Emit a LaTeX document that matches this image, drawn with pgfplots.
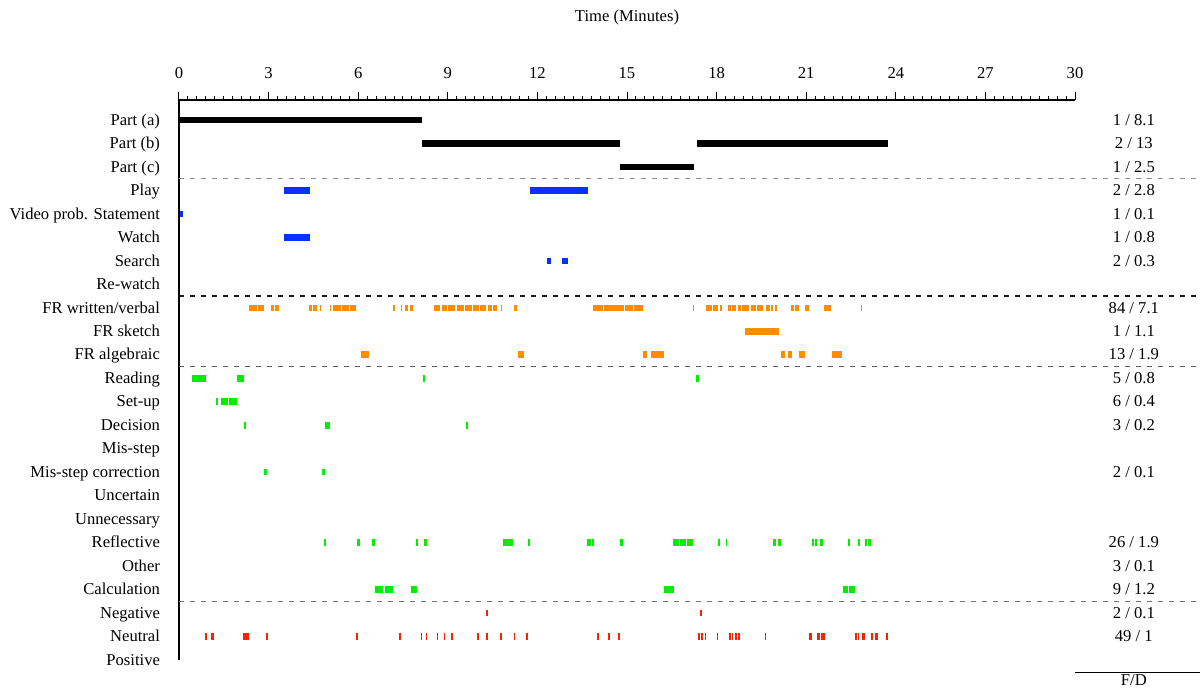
\documentclass[border=0pt]{standalone}
\usepackage{fontspec}
\setmainfont{Liberation Serif}
\usepackage{pgfplots}
\pgfplotsset{compat=1.18}
\usepackage{pgfplotstable}
\definecolor{cblue}{RGB}{0,51,255}
\definecolor{corange}{RGB}{255,140,0}
\definecolor{cgreen}{RGB}{0,238,0}
\definecolor{cred}{RGB}{255,32,0}
\newcommand{\fs}{\fontsize{8.3pt}{10pt}\selectfont}

\pgfplotstableread{
r s e
1 0 8.13
2 8.15 14.78
2 17.33 23.75
3 14.78 17.25
}\tblack
\pgfplotstableread{
r s e
4 3.53 4.40
4 11.75 13.70
5 0.03 0.15
6 3.53 4.40
7 12.31 12.44
7 12.82 13.01
}\tblue
\pgfplotstableread{
r s e
9 2.34 2.62
9 2.66 2.84
9 3.08 3.18
9 3.22 3.35
9 4.35 4.45
9 4.50 4.61
9 4.72 4.77
9 5.04 5.09
9 5.15 5.42
9 5.45 5.68
9 5.72 5.91
9 7.18 7.22
9 7.42 7.47
9 7.58 7.67
9 7.72 7.82
9 8.55 8.75
9 8.80 8.98
9 9.02 9.25
9 9.30 9.55
9 9.58 9.80
9 9.85 10.05
9 10.08 10.27
9 10.36 10.48
9 10.52 10.66
9 10.78 10.82
9 11.23 11.31
9 13.87 14.20
9 14.24 14.55
9 14.58 14.90
9 14.94 15.20
9 15.24 15.54
9 17.20 17.24
9 17.64 17.85
9 17.88 18.06
9 18.12 18.17
9 18.37 18.48
9 18.53 18.66
9 18.70 18.82
9 18.86 19.10
9 19.14 19.32
9 19.36 19.56
9 19.65 19.80
9 19.83 19.90
9 19.96 20.03
9 20.48 20.58
9 20.64 20.76
9 20.97 21.08
9 21.60 21.82
9 22.84 22.88
10 18.96 20.10
11 6.08 6.36
11 11.34 11.56
11 15.54 15.68
11 15.81 16.25
11 20.15 20.28
11 20.38 20.51
11 20.77 20.97
11 21.85 22.21
}\torange
\pgfplotstableread{
r s e
12 0.42 0.92
12 1.94 2.18
12 8.16 8.24
12 17.32 17.41
13 1.24 1.29
13 1.41 1.64
13 1.68 1.94
14 2.19 2.24
14 4.90 5.07
14 9.60 9.66
16 2.86 2.93
16 4.80 4.88
19 4.86 4.93
19 5.97 6.06
19 6.46 6.56
19 7.93 7.99
19 8.20 8.30
19 10.85 11.18
19 11.68 11.75
19 13.67 13.78
19 13.82 13.89
19 14.76 14.87
19 16.55 16.75
19 16.78 16.98
19 17.01 17.22
19 18.06 18.11
19 18.30 18.36
19 19.90 19.98
19 20.07 20.15
19 21.18 21.26
19 21.29 21.35
19 21.46 21.55
19 22.41 22.46
19 22.74 22.80
19 22.97 23.05
19 23.08 23.16
21 6.56 6.82
21 6.91 7.18
21 7.78 7.96
21 16.24 16.57
21 22.22 22.40
21 22.43 22.63
}\tgreen
\pgfplotstableread{
r s e
22 10.28 10.35
22 17.44 17.51
23 0.88 0.93
23 1.07 1.16
23 2.15 2.24
23 2.26 2.35
23 2.91 2.97
23 5.92 5.98
23 7.38 7.44
23 8.09 8.15
23 8.26 8.31
23 8.63 8.68
23 8.86 8.91
23 9.11 9.17
23 9.98 10.04
23 10.27 10.35
23 10.76 10.81
23 11.20 11.25
23 11.61 11.67
23 14.00 14.05
23 14.38 14.43
23 14.70 14.77
23 17.39 17.45
23 17.49 17.55
23 17.60 17.66
23 18.00 18.05
23 18.42 18.48
23 18.51 18.56
23 18.62 18.68
23 18.71 18.77
23 19.61 19.67
23 21.08 21.20
23 21.37 21.45
23 21.48 21.55
23 21.57 21.63
23 22.64 22.70
23 22.72 22.78
23 22.88 22.96
23 23.18 23.24
23 23.32 23.39
23 23.68 23.74
}\tred
\pgfplotstablecreatecol[expr={\thisrow{e}-\thisrow{s}}]{u}\tblack
\pgfplotstablecreatecol[expr={\thisrow{e}-\thisrow{s}}]{u}\tblue
\pgfplotstablecreatecol[expr={\thisrow{e}-\thisrow{s}}]{u}\torange
\pgfplotstablecreatecol[expr={\thisrow{e}-\thisrow{s}}]{u}\tgreen
\pgfplotstablecreatecol[expr={\thisrow{e}-\thisrow{s}}]{u}\tred

\pgfplotsset{seg/.style={line width=3.3pt, quiver={u=\thisrow{u}, v=0}}}

\begin{document}
\begin{tikzpicture}
\useasboundingbox (-89.5pt,-15pt) rectangle (511pt,330pt);
\begin{axis}[
  at={(0,0)}, anchor=south west,
  width=448pt, height=280pt, scale only axis,
  xmin=0, xmax=30, ymin=0.148, ymax=24,
  y dir=reverse,
  axis x line*=top, axis y line*=left,
  clip=false,
  xtick={0,3,...,30}, minor x tick num=9,
  tick align=outside,
  major tick length=4pt, minor tick length=2pt,
  xticklabel style={yshift=3pt},
  ytick={1,...,24},
  yticklabels={{Part (a)},{Part (b)},{Part (c)},{Play},{Video prob. Statement},{Watch},{Search},{Re-watch},{FR written/verbal},{FR sketch},{FR algebraic},{Reading},{Set-up},{Decision},{Mis-step},{Mis-step correction},{Uncertain},{Unnecessary},{Reflective},{Other},{Calculation},{Negative},{Neutral},{Positive}},
  yticklabel style={anchor=base east, xshift=-2pt, yshift=-2.6pt},
  ytick style={draw=none},
  tick label style={font=\fs},
  /pgf/number format/assume math mode=true,
  axis line style={line width=0.6pt},
  every tick/.style={black, line width=0.5pt},
]
\draw[dash pattern=on 2.5pt off 3pt, line width=0.8pt, black!45] (axis cs:0,3.5) -- (axis cs:34.2,3.5);
\draw[dash pattern=on 2.5pt off 3pt, line width=0.8pt, black!90] (axis cs:0,8.5) -- (axis cs:34.2,8.5);
\draw[dash pattern=on 2.5pt off 3pt, line width=0.8pt, black!65] (axis cs:0,11.5) -- (axis cs:34.2,11.5);
\draw[dash pattern=on 2.5pt off 3pt, line width=0.8pt, black!55] (axis cs:0,21.5) -- (axis cs:34.2,21.5);

\addplot[black, seg] table[x=s, y=r] {\tblack};
\addplot[cblue, seg] table[x=s, y=r] {\tblue};
\addplot[corange, seg] table[x=s, y=r] {\torange};
\addplot[cgreen, seg] table[x=s, y=r] {\tgreen};
\addplot[cred, seg] table[x=s, y=r] {\tred};

\node[font=\fs] at (axis cs:15,-3.38) {Time (Minutes)};
\begin{scope}[every node/.style={font=\fs, anchor=base, yshift=-2.6pt}]
\node at (axis cs:31.97,1) {1 / 8.1};
\node at (axis cs:31.97,2) {2 / 13};
\node at (axis cs:31.97,3) {1 / 2.5};
\node at (axis cs:31.97,4) {2 / 2.8};
\node at (axis cs:31.97,5) {1 / 0.1};
\node at (axis cs:31.97,6) {1 / 0.8};
\node at (axis cs:31.97,7) {2 / 0.3};
\node at (axis cs:31.97,9) {84 / 7.1};
\node at (axis cs:31.97,10) {1 / 1.1};
\node at (axis cs:31.97,11) {13 / 1.9};
\node at (axis cs:31.97,12) {5 / 0.8};
\node at (axis cs:31.97,13) {6 / 0.4};
\node at (axis cs:31.97,14) {3 / 0.2};
\node at (axis cs:31.97,16) {2 / 0.1};
\node at (axis cs:31.97,19) {26 / 1.9};
\node at (axis cs:31.97,20) {3 / 0.1};
\node at (axis cs:31.97,21) {9 / 1.2};
\node at (axis cs:31.97,22) {2 / 0.1};
\node at (axis cs:31.97,23) {49 / 1};
\end{scope}
\node[font=\fs] at (axis cs:31.97,24.86) {F/D};
\draw[line width=0.5pt] (axis cs:30,24.55) -- (axis cs:34.2,24.55);
\end{axis}
\end{tikzpicture}
\end{document}
